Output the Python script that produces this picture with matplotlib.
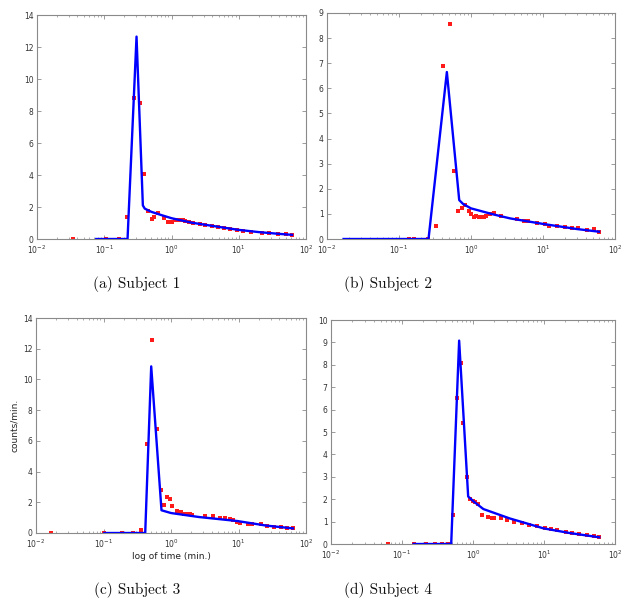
import matplotlib
matplotlib.use("Agg")
import matplotlib.pyplot as plt
from matplotlib.ticker import LogLocator, NullFormatter, MultipleLocator

# ---------------- data ----------------
# Subject 1
s1_obs_t = [0.034, 0.107, 0.163, 0.217, 0.279, 0.335, 0.388, 0.446, 0.505, 0.553, 0.634,
            0.769, 0.873, 1.0, 1.13, 1.31, 1.49, 1.61, 1.83, 2.10, 2.61, 3.16, 3.97, 4.93,
            6.05, 7.35, 9.44, 11.7, 15.4, 22.4, 27.9, 38.8, 50.5, 61.2]
s1_obs_y = [0, 0, 0, 1.4, 8.8, 8.52, 4.08, 1.77, 1.23, 1.40, 1.60,
            1.29, 1.04, 1.04, 1.19, 1.17, 1.17, 1.15, 1.08, 1.0, 0.96, 0.90, 0.81, 0.75,
            0.67, 0.63, 0.58, 0.52, 0.46, 0.40, 0.38, 0.31, 0.29, 0.25]
s1_fit_t = [0.076, 0.222, 0.302, 0.375, 0.40, 0.5, 0.7, 1.0, 2.0, 5.0, 10.0, 20.0, 40.0, 62.0]
s1_fit_y = [0, 0, 12.65, 2.1, 1.9, 1.7, 1.5, 1.3, 1.02, 0.76, 0.57, 0.43, 0.32, 0.26]

# Subject 2
s2_obs_t = [0.137, 0.161, 0.249, 0.325, 0.415, 0.504, 0.578, 0.664, 0.738, 0.82, 0.933,
            1.016, 1.094, 1.19, 1.28, 1.38, 1.51, 1.62, 1.85, 2.10, 2.59, 4.32, 5.41, 6.14,
            8.19, 10.6, 12.3, 15.7, 20.2, 25.3, 30.3, 40.5, 51.1, 60.7]
s2_obs_y = [0, 0, 0, 0.53, 6.87, 8.55, 2.69, 1.10, 1.23, 1.37, 1.10,
            1.0, 0.86, 0.91, 0.89, 0.89, 0.89, 0.90, 0.98, 1.02, 0.93, 0.80, 0.72, 0.72,
            0.62, 0.60, 0.53, 0.50, 0.46, 0.42, 0.45, 0.36, 0.38, 0.29]
s2_fit_t = [0.017, 0.257, 0.462, 0.686, 0.78, 1.0, 2.04, 3.5, 10.0, 29.0, 60.0]
s2_fit_y = [0, 0, 6.65, 1.55, 1.39, 1.22, 0.98, 0.82, 0.60, 0.40, 0.29]

# Subject 3
s3_obs_t = [0.0167, 0.103, 0.189, 0.275, 0.362, 0.443, 0.532, 0.616, 0.708, 0.792, 0.887,
            0.972, 1.05, 1.23, 1.41, 1.58, 1.73, 1.90, 2.08, 3.16, 4.25, 5.28, 6.40, 7.43,
            8.41, 9.53, 10.4, 13.6, 15.9, 21.3, 26.5, 33.6, 42.2, 52.9, 64.2]
s3_obs_y = [0, 0, 0, 0, 0.22, 5.82, 12.57, 6.77, 2.80, 1.80, 2.37,
            2.21, 1.74, 1.41, 1.35, 1.26, 1.24, 1.24, 1.19, 1.13, 1.09, 0.96, 0.98, 0.91,
            0.87, 0.74, 0.65, 0.59, 0.56, 0.56, 0.48, 0.41, 0.37, 0.35, 0.30]
s3_fit_t = [0.103, 0.415, 0.509, 0.723, 1.0, 2.6, 9.6, 26.0, 64.0]
s3_fit_y = [0, 0, 10.85, 1.48, 1.30, 1.04, 0.78, 0.48, 0.30]

# Subject 4
s4_obs_t = [0.0642, 0.146, 0.215, 0.290, 0.368, 0.448, 0.526, 0.593, 0.667, 0.734, 0.818,
            0.922, 0.995, 1.07, 1.19, 1.33, 1.65, 1.84, 1.99, 2.46, 3.06, 3.79, 4.92, 6.17,
            8.08, 10.4, 12.7, 15.4, 20.2, 25.1, 30.8, 40.4, 50.7, 60.2]
s4_obs_y = [0, 0, 0, 0, 0, 0, 1.29, 6.52, 8.07, 5.42, 3.0,
            2.01, 1.92, 1.87, 1.80, 1.31, 1.20, 1.16, 1.16, 1.14, 1.08, 0.98, 0.92, 0.85,
            0.79, 0.71, 0.67, 0.61, 0.53, 0.50, 0.46, 0.39, 0.36, 0.30]
s4_fit_t = [0.146, 0.493, 0.638, 0.855, 1.02, 1.4, 3.3, 9.8, 23.0, 60.0]
s4_fit_y = [0, 0, 9.08, 2.12, 1.9, 1.56, 1.14, 0.70, 0.49, 0.30]

captions = ["(a) Subject 1", "(b) Subject 2", "(c) Subject 3", "(d) Subject 4"]
ymaxes = [14, 9, 14, 10]
ysteps = [2, 1, 2, 1]

# ---------------- layout ----------------
W, H = 633, 605
fig = plt.figure(figsize=(W / 100, H / 100), dpi=100)

# pixel boxes: left, right, top, bottom
boxes = [(37, 306, 15, 239), (327, 615, 13, 239), (36, 306, 318, 533), (331, 615, 320, 544)]
cap_pos = [(137, 284), (388, 284), (137, 590), (388, 590)]

series = [(s1_obs_t, s1_obs_y, s1_fit_t, s1_fit_y),
          (s2_obs_t, s2_obs_y, s2_fit_t, s2_fit_y),
          (s3_obs_t, s3_obs_y, s3_fit_t, s3_fit_y),
          (s4_obs_t, s4_obs_y, s4_fit_t, s4_fit_y)]

edge = "#8a8a8a"
for i, (box, ser) in enumerate(zip(boxes, series)):
    l, r, t, b = box
    ax = fig.add_axes([l / W, 1 - b / H, (r - l) / W, (b - t) / H])
    ot, oy, ft, fy = ser
    ax.plot(ot, oy, linestyle="none", marker="s", markersize=3.5,
            color="#ff1a1a", markeredgewidth=0, zorder=2)
    ax.plot(ft, fy, color="#0000ff", linewidth=1.7, zorder=3)
    ax.set_xscale("log")
    ax.set_xlim(1e-2, 1e2)
    ax.set_ylim(0, ymaxes[i])
    ax.yaxis.set_major_locator(MultipleLocator(ysteps[i]))
    ax.xaxis.set_major_locator(LogLocator(base=10, numticks=10))
    ax.xaxis.set_minor_locator(LogLocator(base=10, subs=range(2, 10), numticks=10))
    ax.xaxis.set_minor_formatter(NullFormatter())
    ax.tick_params(which="both", direction="in", top=True, right=True,
                   labelsize=5.5, colors="#333333")
    ax.tick_params(axis="x", pad=3.5)
    ax.tick_params(axis="y", pad=2.5)
    ax.tick_params(which="major", length=3, width=0.6, color=edge)
    ax.tick_params(which="minor", length=1.6, width=0.5, color=edge)
    for sp in ax.spines.values():
        sp.set_color(edge)
        sp.set_linewidth(0.8)
    if i == 2:
        ax.set_xlabel("log of time (min.)", fontsize=6.5, color="#222222", labelpad=1)
        ax.set_ylabel("counts/min.", fontsize=6.5, color="#222222", labelpad=3)
    cx, cy = cap_pos[i]
    fig.text(cx / W, 1 - cy / H, captions[i], ha="center", va="center",
             fontsize=11, family="cmr10", color="#111111")

fig.savefig("out.png", dpi=100)
